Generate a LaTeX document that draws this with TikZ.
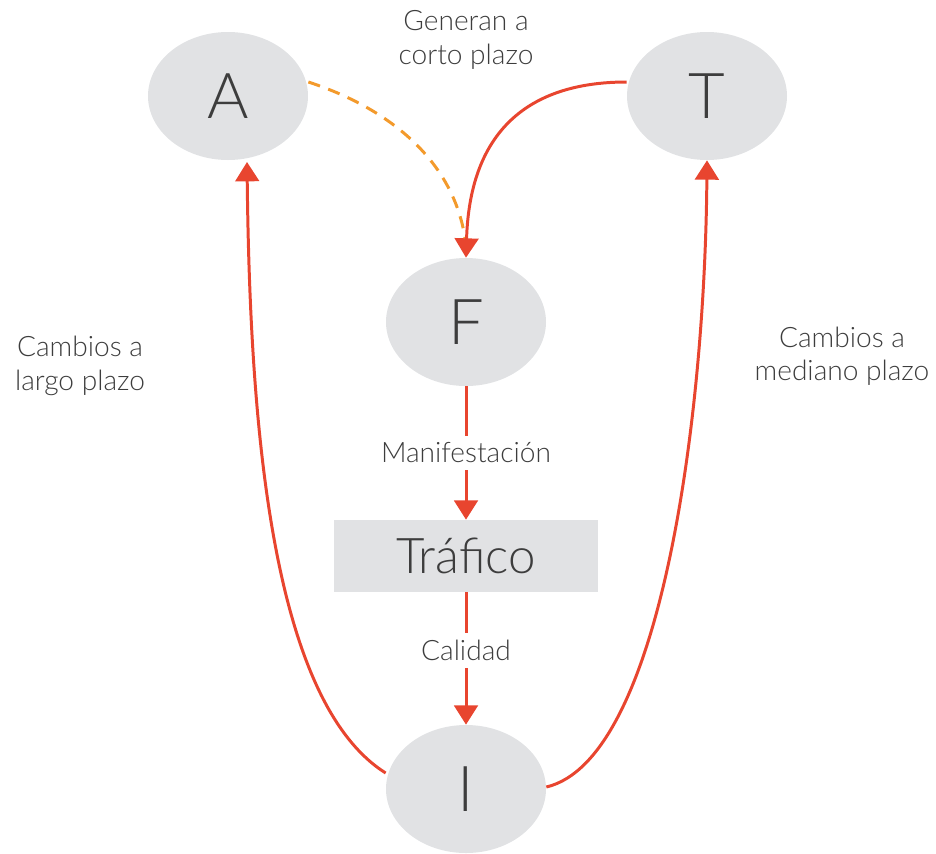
\documentclass[tikz,border=0pt]{standalone}
\usepackage{fontspec}
\setmainfont{Lato Light}
\usetikzlibrary{arrows.meta}
\definecolor{bubblegray}{HTML}{E1E2E4}
\definecolor{linkred}{HTML}{E8452F}
\definecolor{linkorange}{HTML}{F39A2C}
\definecolor{textgray}{HTML}{3D3D3D}
\tikzset{
  factor/.style={ellipse, fill=bubblegray, minimum width=160*0.02cm, minimum height=128*0.02cm,
    inner sep=0pt, text=textgray, font=\fontsize{36}{36}\selectfont},
  center box/.style={rectangle, fill=bubblegray, minimum width=264*0.02cm, minimum height=72*0.02cm,
    inner sep=0pt, text=textgray, font=\fontsize{28}{28}\selectfont},
  note/.style={align=center, text=textgray, font=\fontsize{16}{19}\selectfont},
  link/.style={draw=linkred, line width=1.7pt, -{Triangle[width=13.5pt,length=11pt]}},
  short link/.style={draw=linkorange, line width=1.7pt, dash pattern=on 7pt off 5pt},
}
\usetikzlibrary{shapes.geometric}
\begin{document}
\begin{tikzpicture}[x=0.02cm, y=-0.02cm]
  \useasboundingbox (0,0) rectangle (936,853);
  \draw
    (228,96) node[factor] (A){A}
    (707,96) node[factor] (T){T}
    (466,322) node[factor] (F){F}
    (466,556) node[center box] (traf){Tráfico}
    (466,789) node[factor] (I){I};
  \node[note] (corto) at (466,40) {Generan a\\corto plazo};
  \node[note] (largo) at (80,366) {Cambios a\\largo plazo};
  \node[note] (mediano) at (842,356) {Cambios a\\mediano plazo};
  \coordinate (Ftop) at (466,246);
  \coordinate (Abot) at (247,162);
  \begin{scope}
    \draw[short link] (A.east) ++(0,-14) .. controls (400,112) and (458,170) .. (Ftop);
    \draw[link] (T.west) ++(0,-14) .. controls (535,82) and (470,125) .. (F.north);
    \draw[link] (I.west) ++(0,-16) .. controls (270,700) and (250,420) .. (Abot);
    \draw[link] (I.east) ++(0,-2) .. controls (660,760) and (705,420) .. (T.south);
    \draw[link] (F) -- node[note, fill=white, inner xsep=1pt, inner ysep=4pt] (manif) {Manifestación} (traf);
    \draw[link] (traf) -- node[note, fill=white, inner xsep=1pt, inner ysep=4pt, pos=0.44] (calidad) {Calidad} (I);
  \end{scope}
\end{tikzpicture}
\end{document}
